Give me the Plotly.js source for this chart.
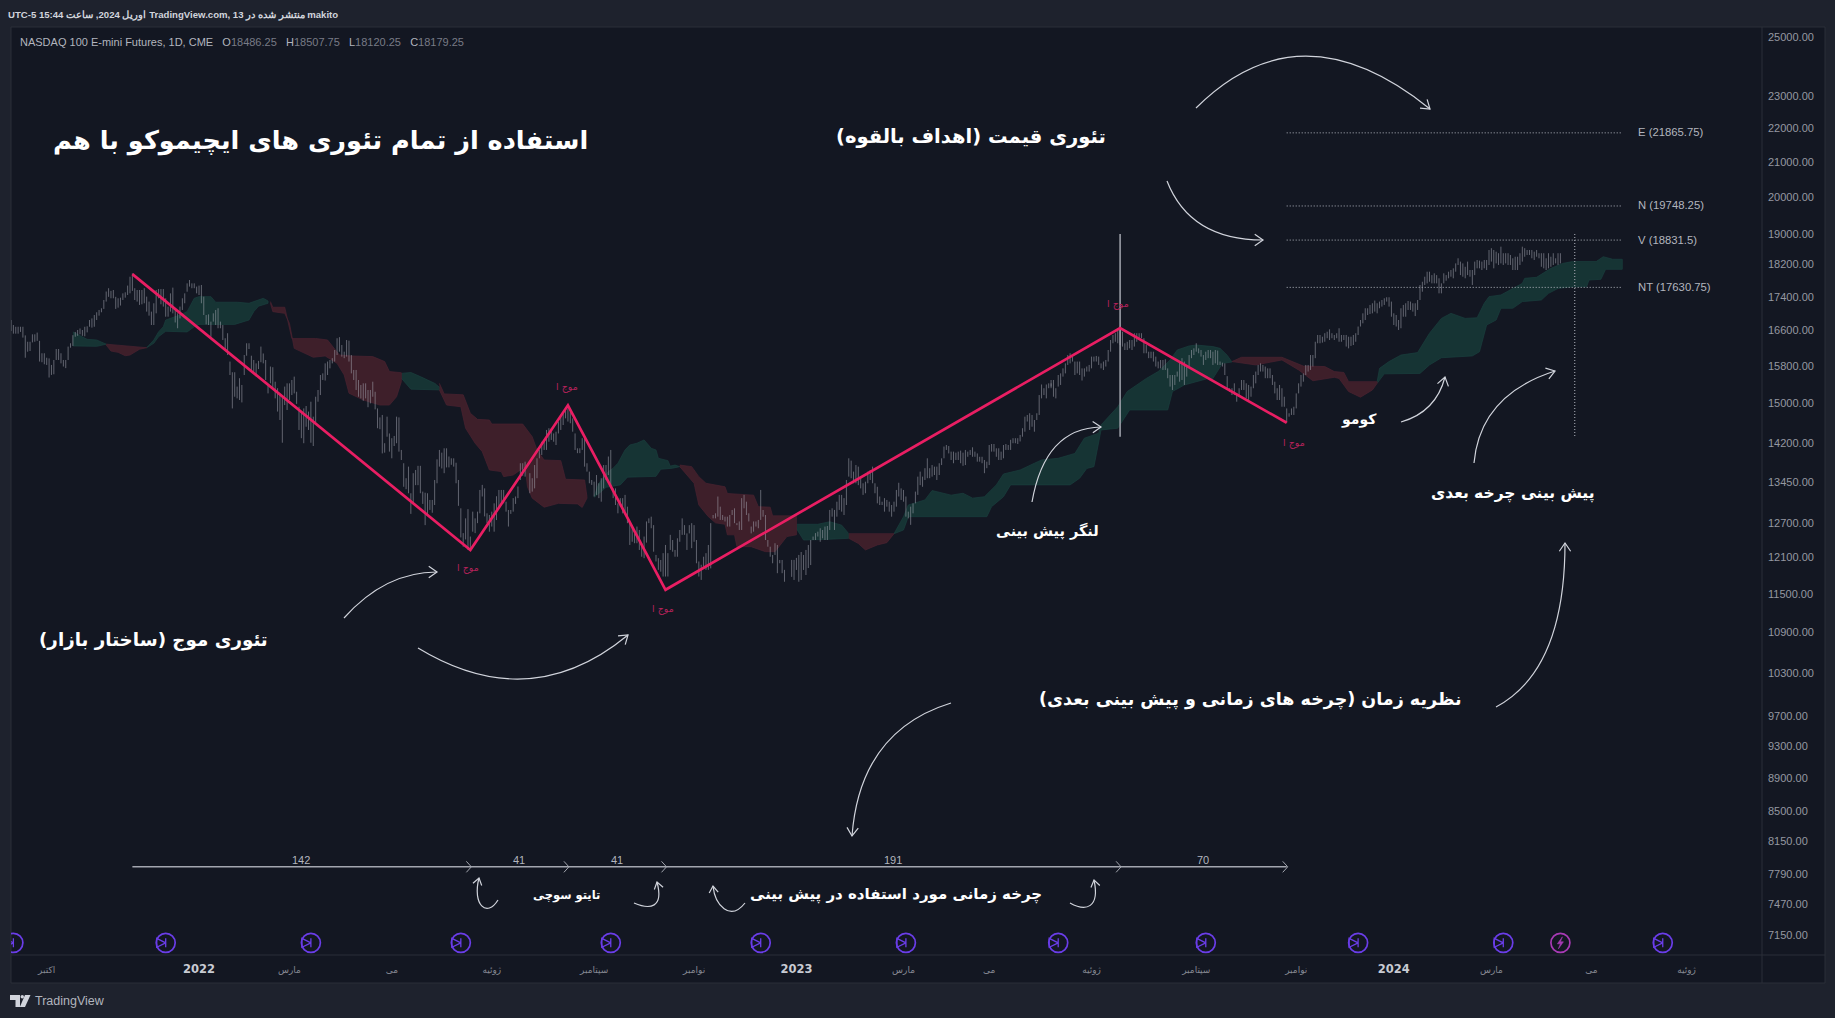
<!DOCTYPE html>
<html><head><meta charset="utf-8">
<script src="https://cdn.plot.ly/plotly-3.0.1.min.js"></script>
<style>html,body{margin:0;padding:0;background:#1e222d;overflow:hidden}#chart{width:1835px;height:1018px}</style>
</head><body><div id="chart"></div>
<script>
// ---------- price bars: [high, low] ----------
const barStarts=[0,109,218,328,337,437,546];
const barsA=[[16848,16590],[16730,16530],[16690,16530],[16690,16530],[16690,16570],[16690,16440],[16490,15985],[16345,16120],[16345,16135],[16515,16330],[16515,16345],[16555,16365],[16365,15900],[16085,15885],[16085,15840],[15985,15825],[15970,15550],[15825,15607],[15935,15620],[16180,15935],[16180,15935],[16085,15860],[15935,15790],[15935,15755],[16235,15935],[16310,16210],[16495,16250],[16570,16460],[16615,16480],[16650,16515],[16615,16480],[16690,16470],[16700,16560],[16848,16690],[16885,16670],[16965,16690],[17030,16848],[17085,16950],[17125,17030],[17324,17110],[17530,17285],[17610,17400],[17545,17365],[17567,17365],[17400,17110],[17365,17140],[17380,17190],[17485,17324],[17510,17380],[17675,17445],[17895,17485],[17980,17545],[17610,17324],[17567,17285],[17567,17205],[17567,17220],[17610,17245],[17405,17045],[17285,16950],[17045,16730],[17245,16730],[17567,17005],[17590,17365],[17590,17220],[17590,17165],[17365,16925],[17165,16925],[17485,17045],[17625,17005],[17125,16790],[17005,16655],[17165,16885],[17365,17085],[17485,17245],[17730,17525],[17813,17650],[17730,17610],[17730,17610],[17650,17485],[17675,17445],[17690,17245],[17405,16965],[16965,16745],[16980,16730],[16810,16460],[17005,16810],[17085,16730],[17125,16655],[16810,16655],[16730,16385],[16425,16158],[16540,16045],[15900,15605],[15665,14895],[15665,15140],[15355,15105],[15535,15071],[15390,15020],[16045,15605],[16310,16030],[16310,16180],[16030,15680],[15935,15665],[15860,15570],[15915,15735],[16235,15885],[16080,15860],[15935,15497],[15390,15210]];
const barsB=[[15790,15425],[15775,15320],[15460,15105],[15320,14830],[15175,14657],[15140,14200],[15355,14965],[15425,14863],[15425,15071],[15497,15175],[15570,15210],[15245,14990],[14930,14455],[14830,14290],[14895,14190],[14945,14520],[14830,14455],[15035,14200],[14725,14135],[15140,14600],[15283,15035],[15605,15175],[15640,15497],[15860,15485],[15900,15605],[15935,15750],[15975,15860],[16158,15900],[16425,16045],[16450,16120],[16270,16010],[16120,15975],[16385,16010],[16370,15900],[16045,15640],[15715,15497],[15715,15283],[15497,15140],[15390,15105],[15425,15055],[15425,15105],[15283,14920],[15283,15000],[15460,15140],[15245,14875],[14895,14490],[14710,14470],[14760,13990],[14190,14005],[14725,14320],[14385,14025],[14290,13895],[14335,14135],[14725,14190],[14710,14025],[14058,13863],[13800,13355],[13515,13310],[13735,13235],[13235,12860],[13610,13050],[13671,13385],[13750,13385],[13750,13235],[13265,13040],[13245,12660],[13235,12840],[13112,12931],[13112,12880],[13482,13020],[13875,13420],[14058,13735],[14005,13700],[14090,13610],[14090,13720],[13930,13720],[13895,13770],[13895,13735],[13810,13420],[13482,13005],[12960,12445],[12520,12285],[12780,12410],[12945,12230],[12460,12260],[12900,12545],[12780,12520],[12900,12695],[13296,12870],[13390,13175],[13325,12815],[12870,12695],[12840,12545],[12900,12635],[13050,12545],[13180,12750],[13296,12960],[13296,13050],[13296,13050],[13080,12900],[12930,12635],[12930,12860],[13145,12900],[13175,13040],[13360,13145],[13800,13482],[13800,13560],[13830,13545]];
const barsC=[[13610,13235],[13515,13265],[13765,13325],[13895,13515],[14058,13895],[14220,13960],[14255,14058],[14455,14058],[14490,14220],[14490,14255],[14385,14220],[14420,14155],[14625,14385],[14725,14455],[14795,14555],[14895,14690],[14895,14625],[14830,14590],[14690,14420],[14385,14058],[14090,13995],[14090,13995],[14290,14058],[14320,13735],[13800,13640],[13640,13420],[13482,13390],[13450,13175],[13575,13205],[13420,13145],[13515,13080],[13765,13325],[13765,13482],[13930,13575],[14058,13360],[13325,13145],[13325,13020],[13050,12870],[13145,12990],[13145,12870],[13205,12900],[12990,12695],[12695,12315],[12660,12370],[12515,12345],[12635,12345],[12575,12230],[12345,12115],[12460,12090],[12725,12355],[12780,12695],[12810,12605],[12660,12200],[12145,12035],[12090,11895],[12060,11865],[12175,11785],[12315,11785],[12175,11785],[12490,12230],[12400,12200],[12230,12115],[12430,12115],[12575,12370],[12780,12490],[12660,12490],[12515,12230],[12660,12515],[12695,12260],[12660,12370],[12400,12005],[12035,11785],[11980,11730],[12115,11950],[12175,11895],[12315,11895],[12695,11920],[12840,12780],[12870,12780],[13175,12810],[12990,12752],[12840,12752],[12810,12725],[12810,12635],[12840,12635],[12930,12840],[12960,12695],[12695,12660],[12725,12575],[13145,12575],[13205,12960],[13080,12840],[12870,12725],[12635,12515],[12725,12545],[12725,12635],[12752,12605],[13296,12752],[12930,12810],[12840,12400],[12400,12285],[12285,12115],[12145,12005],[12345,12145],[12315,11840],[12060,12005],[12060,11840],[11895,11700]];
const barsD=[[12061,11780],[12061,11729],[12095,11894],[12145,11700],[12195,11729],[12145,11894],[12230,11810],[12315,11925],[12400,11975]];
const barsE=[[12460,12400],[12520,12400],[12545,12460],[12605,12370],[12575,12430],[12635,12400],[12645,12400],[12931,12575],[12960,12810],[12931,12575],[13080,12810],[13205,12931],[13205,12900],[13145,12840],[13482,13020],[13895,13545],[13850,13515],[13640,13420],[13765,13420],[13735,13385],[13545,13325],[13420,13205],[13450,13235],[13640,13420],[13671,13482],[13735,13420],[13420,13235],[13355,13050],[13175,13020],[13080,13020],[13145,12900],[13112,12990],[13080,12900],[13020,12810],[13080,12900],[13296,12990],[13430,13175],[13325,13112],[13296,13080],[13175,12810],[12900,12780],[12990,12665],[13050,12870],[13265,13050],[13545,13205],[13640,13385],[13545,13355],[13705,13482],[13895,13515],[13705,13515],[13765,13545],[13735,13575],[13735,13482],[13800,13575],[13895,13765],[14125,13895],[14155,14058],[14135,13990],[14025,13863],[14025,13800],[14005,13863],[14025,13863],[14045,13800],[14005,13750],[14058,13765],[14025,13925],[14058,13960],[14110,13925],[14025,13925],[13990,13830],[13925,13830],[13925,13800],[13863,13610],[13830,13705],[14155,13765],[14175,14025],[14175,14025],[14090,13925],[14090,13863],[14025,13863],[14155,13895],[14175,14058],[14155,14058],[14258,14058],[14290,14190],[14290,14190],[14290,14175],[14355,14225],[14490,14320],[14725,14420],[14760,14625],[14795,14455],[14760,14520],[14657,14420],[14795,14657],[15175,14760],[15400,15105],[15320,15175],[15400,15105],[15425,15320],[15497,15355]];
const barsF=[[15425,15320],[15497,15140],[15320,15105],[15605,15355],[15640,15390],[15750,15570],[15860,15640],[16045,15825],[16085,15860],[16010,15900],[15900,15605],[15900,15640],[15900,15605],[15750,15485],[15750,15570],[15790,15680],[15825,15680],[16010,15750],[16010,15900],[16025,15900],[16010,15825],[15860,15750],[15900,15715],[15935,15790],[16158,15900],[16385,16120],[16500,16310],[16540,16345],[16655,16310],[16710,16270],[16575,16235],[16310,16158],[16345,16158],[16385,16195],[16385,16158],[16540,16235],[16540,16345],[16540,16385],[16540,16425],[16425,16085],[16270,16085],[16120,15975],[16120,15975],[16120,15900],[16010,15790],[15900,15750],[15935,15750],[15935,15715],[15950,15715],[15750,15535],[15605,15355],[15605,15283],[15605,15390],[15680,15570],[15900,15460],[15975,15497],[15900,15390],[15790,15570],[16045,15790],[16158,15975],[16195,16045],[16310,16120],[16195,16085],[16158,16010],[16045,15825],[16120,15935],[16158,15975],[16158,15975],[16120,15825],[16158,15860],[16145,15825],[15900,15825],[15875,15790],[15860,15605],[15580,15320],[15320,15245],[15320,15175],[15425,15175],[15210,15035],[15320,15140],[15497,15283],[15497,15283],[15425,15105],[15390,15071],[15355,15140],[15605,15320],[15680,15425],[15825,15605],[15860,15680],[15825,15680],[15790,15535],[15750,15535],[15750,15535],[15605,15390],[15460,15210],[15320,15071],[15390,15071],[15320,14930],[15140,14930],[14895,14600],[14795,14725],[14895,14760],[14930,14760],[15210,14895],[15425,15210],[15605,15355],[15640,15460],[15825,15605],[15825,15680]];
const barsG=[[16045,15715],[16045,15790],[16345,15975],[16500,16310],[16500,16310],[16460,16325],[16540,16345],[16575,16425],[16630,16385],[16540,16425],[16500,16385],[16540,16425],[16655,16345],[16500,16345],[16500,16385],[16500,16235],[16460,16195],[16460,16250],[16500,16270],[16540,16345],[16695,16500],[16848,16695],[17005,16770],[17125,16848],[17125,16965],[17205,16990],[17245,17005],[17310,17045],[17245,17005],[17285,17125],[17324,17165],[17365,17205],[17390,17285],[17390,17165],[17285,16925],[17005,16730],[16965,16695],[16848,16615],[17125,16655],[17205,16925],[17245,16925],[17300,17085],[17285,17085],[17245,17045],[17245,16940],[17324,17085],[17690,17324],[17770,17525],[17895,17690],[18020,17730],[18020,17770],[17935,17730],[17980,17730],[17935,17730],[17855,17485],[17730,17485],[17980,17730],[17935,17795],[18020,17855],[18063,17895],[18105,17855],[18230,18020],[18360,18190],[18275,17935],[18230,17895],[18145,17855],[18275,17935],[18063,17895],[18063,17690],[18275,17935],[18317,18105],[18300,18105],[18275,18063],[18317,18105],[18317,18063],[18574,18190],[18620,18275],[18574,18105],[18530,18230],[18490,18190],[18660,18230],[18490,18190],[18490,18230],[18490,18190],[18445,18190],[18360,18063],[18400,18063],[18400,18063],[18490,18190],[18660,18275],[18620,18400],[18574,18445],[18574,18445],[18574,18360],[18530,18317],[18574,18400],[18490,18360],[18490,18145],[18490,18105],[18360,18063],[18490,18105],[18400,18145],[18490,18190],[18360,18230],[18490,18190],[18490,18230]];

// ---------- ichimoku cloud outlines: [bar, price] ----------
const kumoGreen=[
 {top:[[26,16570],[32,16400],[36,16385],[40,16290]],bot:[[26,16250],[32,16250],[36,16240],[40,16290]]},
 {top:[[57,16210],[60,16385],[62,16570],[64,16690],[65,16848],[68,16905],[71,16965],[74,17045],[77,17365],[79,17405],[84,17405],[86,17270],[95,17270],[100,17245],[104,17324],[106,17365],[108,17300]],bot:[[57,16210],[60,16310],[62,16460],[65,16585],[74,16570],[77,16690],[79,16745],[94,16745],[100,16848],[102,17045],[104,17175],[108,17245]]},
 {top:[[164,15640],[168,15660],[172,15570],[178,15425],[181,15300]],bot:[[164,15535],[168,15300],[181,15283]]},
 {top:[[245,13175],[247,13420],[251,13640],[253,13705],[255,13800],[258,14058],[260,14155],[263,14190],[266,14255],[269,14090],[271,14058],[272,13895],[276,13850],[277,13745],[279,13765],[281,13735]],bot:[[245,13160],[248,13265],[250,13345],[256,13390],[259,13535],[271,13550],[273,13685],[278,13705],[281,13735]]},
 {top:[[330,12675],[339,12675],[344,12720],[349,12660],[352,12510]],bot:[[330,12600],[333,12400],[342,12410],[352,12430]]},
 {top:[[371,12510],[375,12810],[377,13020],[384,13112],[387,13285],[392,13235],[395,13200],[400,13235],[404,13145],[409,13170],[414,13390],[417,13595],[424,13671],[430,13800],[433,13863],[440,13895],[447,13990],[451,14290],[457,14390],[458,14555],[462,14760],[465,14930],[469,15250],[477,15530],[482,15680],[487,15935],[490,16158],[495,16250],[498,16270],[505,16235],[508,16195],[511,16040],[513,15890]],bot:[[371,12510],[375,12575],[377,12810],[410,12810],[412,12990],[417,13170],[420,13390],[445,13390],[449,13515],[452,13700],[455,13735],[458,14455],[465,14490],[470,14863],[486,14863],[488,15250],[493,15390],[503,15530],[505,15530],[509,15860],[513,15890]]},
 {top:[[574,15460],[575,15750],[579,15900],[584,16045],[591,16100],[596,16540],[601,16885],[605,17005],[611,16885],[616,16900],[619,17245],[621,17405],[626,17445],[635,17730],[636,17855],[641,17880],[647,18105],[652,18230],[656,18275],[666,18275],[669,18400],[673,18335],[677,18335]],bot:[[574,15425],[577,15630],[592,15640],[596,15825],[601,15985],[614,16025],[617,16120],[620,16730],[624,16848],[626,17125],[631,17125],[635,17285],[643,17324],[646,17485],[650,17605],[656,17645],[662,17645],[663,17813],[668,17830],[670,18080],[677,18080]]}
];
const kumoRed=[
 {top:[[40,16290],[57,16220]],bot:[[40,16270],[42,16135],[45,16105],[48,16030],[50,16045],[52,16105],[54,16175],[57,16210]]},
 {top:[[109,17285],[110,17150],[115,17150],[118,16420],[128,16420],[133,16385],[138,16045],[143,16025],[152,16010],[157,15900],[159,15680],[164,15655]],bot:[[109,17245],[110,17045],[115,17005],[117,16770],[119,16195],[127,15995],[132,16025],[137,15860],[140,15605],[142,15215],[148,15071],[155,14965],[159,14965],[162,15140],[164,15460]]},
 {top:[[180,15425],[182,15200],[190,15180],[193,14795],[196,14670],[201,14657],[202,14575],[215,14575],[219,14320],[221,14058],[224,13863],[231,13850],[233,13495],[241,13482],[242,13170]],bot:[[180,15283],[183,14965],[189,14930],[191,14490],[195,14190],[198,14025],[201,13671],[206,13640],[207,13545],[211,13575],[216,13735],[217,13355],[219,13145],[224,12980],[230,13050],[238,13040],[240,12975],[242,13145]]},
 {top:[[281,13765],[286,13735],[289,13545],[292,13420],[300,13355],[301,13230],[312,13200],[314,12990],[319,12980],[320,12825],[330,12825]],bot:[[281,13735],[287,13420],[289,13020],[293,12810],[296,12700],[300,12675],[301,12490],[304,12490],[305,12285],[311,12285],[317,12200],[321,12200],[326,12460],[330,12490]]},
 {top:[[352,12510],[371,12510]],bot:[[352,12430],[356,12340],[359,12230],[364,12315],[368,12355],[371,12510]]},
 {top:[[513,15900],[517,15995],[534,15995],[543,15800],[552,15790],[556,15680],[560,15660],[562,15460],[574,15460]],bot:[[513,15900],[523,15825],[534,15935],[541,15715],[547,15480],[556,15555],[558,15530],[562,15250],[567,15130],[572,15283],[574,15425]]}
];

// ---------- wave (zigzag), levels, cycles ----------
const waveBars=[51,193,234,275,466,536];
const wavePrices=[17960,12230,14960,11570,16660,14600];
const waveLabelPx=[[468,568],[567,387],[663,609],[1118,304],[1294,443]];
const levelNames=['E (21865.75)','N (19748.25)','V (18831.5)','NT (17630.75)'];
const levelValues=[21865.75,19748.25,18831.5,17630.75];
const levelBars=[536,677];
const cycleBars=[51,193,234,275,466,536];
const cycleCounts=['142','41','41','191','70'];
const cyclePrice=7865;
const anchorBar=466, forecastBar=657, vlineHi=18990, vlineLo=14320;
const eventBars=[1,65,126,189,252,315,376,440,502,566,627,694];
const dividendBars=[651];
const eventPrice=7075;

// ---------- axes ----------
const priceTicks=[25000,23000,22000,21000,20000,19000,18200,17400,16600,15800,15000,14200,13450,12700,12100,11500,10900,10300,9700,9300,8900,8500,8150,7790,7470,7150];
const timeTickBars=[15,79,117,160,202,245,287,330,375,411,454,498,540,581,622,664,704];
const timeTickText=['اکتبر','2022','مارس','می','ژوئیه','سپتامبر','نوامبر','2023','مارس','می','ژوئیه','سپتامبر','نوامبر','2024','مارس','می','ژوئیه'];

// ---------- layout geometry ----------
const W=1835,H=1018,L=11,R=1762,T=27,B=955,FR=1825,FB=983;
const YMAX=25340,YMIN=6956;
const PX=(x)=>(x-L)/(R-L), PY=(y)=>1-(y-T)/(B-T);
const xpx=(i)=>L+(R-L)*i/735.7;
const ypx=(v)=>T+(B-T)*(Math.log10(YMAX)-Math.log10(v))/(Math.log10(YMAX)-Math.log10(YMIN));
const RTL=(s)=>'\u202B'+s+'\u202C';
const FA='"DejaVu Sans", "Noto Sans", sans-serif', LA='"Liberation Sans", Arial, sans-serif';

// ---------- traces ----------
const traces=[];
function cloud(seg,fill,edge){
  const pts=seg.top.concat(seg.bot.slice().reverse());
  traces.push({type:'scatter',mode:'lines',x:pts.map(p=>p[0]),y:pts.map(p=>p[1]),fill:'toself',fillcolor:fill,line:{color:edge,width:0.7},hoverinfo:'skip',showlegend:false});
}
kumoGreen.forEach(s=>cloud(s,'#163434','#1a3f3d'));
kumoRed.forEach(s=>cloud(s,'#3e1f2a','#4a2330'));

const bx=[],by=[];
[barsA,barsB,barsC,barsD,barsE,barsF,barsG].forEach((seg,k)=>seg.forEach((b,j)=>{
  const i=barStarts[k]+j; bx.push(i,i,null); by.push(b[0],b[1],null);
}));
traces.push({type:'scatter',mode:'lines',x:bx,y:by,line:{color:'rgba(165,168,178,0.6)',width:0.9},hoverinfo:'skip',showlegend:false,name:'NQ'});

levelValues.forEach(v=>traces.push({type:'scatter',mode:'lines',x:levelBars,y:[v,v],line:{color:'#b2b5be',width:1,dash:'1px 2px'},hoverinfo:'skip',showlegend:false}));
traces.push({type:'scatter',mode:'lines',x:[anchorBar,anchorBar],y:[vlineHi,vlineLo],line:{color:'#a3a6af',width:1.5},hoverinfo:'skip',showlegend:false});
traces.push({type:'scatter',mode:'lines',x:[forecastBar,forecastBar],y:[vlineHi,vlineLo],line:{color:'#8f929b',width:1.3,dash:'1px 2px'},hoverinfo:'skip',showlegend:false});
traces.push({type:'scatter',mode:'lines',x:waveBars,y:wavePrices,line:{color:'#e91e63',width:2.7},hoverinfo:'skip',showlegend:false});
traces.push({type:'scatter',mode:'lines',x:[cycleBars[0],cycleBars[cycleBars.length-1]],y:[cyclePrice,cyclePrice],line:{color:'#a3a6af',width:1.5},hoverinfo:'skip',showlegend:false});
traces.push({type:'scatter',mode:'markers',x:eventBars,y:eventBars.map(()=>eventPrice),marker:{symbol:'circle-open',size:19,color:'#6a3de8',line:{width:1.7,color:'#6a3de8'}},hoverinfo:'skip',showlegend:false});
traces.push({type:'scatter',mode:'markers',x:eventBars,y:eventBars.map(()=>eventPrice),marker:{symbol:'arrow-bar-right-open',size:9,color:'#6a3de8',line:{width:1.3,color:'#6a3de8'}},hoverinfo:'skip',showlegend:false});
traces.push({type:'scatter',mode:'markers',x:dividendBars,y:dividendBars.map(()=>eventPrice),marker:{symbol:'circle-open',size:19,color:'#a83ab5',line:{width:1.7,color:'#a83ab5'}},hoverinfo:'skip',showlegend:false});

// ---------- annotations ----------
const ann=[];
function note(x,y,text,size,color,o){ann.push(Object.assign({xref:'paper',yref:'paper',x:PX(x),y:PY(y),text:text,showarrow:false,xanchor:'center',yanchor:'middle',font:{family:FA,size:size,color:color}},o||{}));}
const A=(s)=>RTL(s);
note(6,15,A('makito منتشر شده در TradingView.com, 13 اوریل 2024, ساعت 15:44 UTC-5'),9.5,'#d1d4dc',{xanchor:'left',font:{family:LA,size:9.6,color:'#d1d4dc',weight:700}});
const val=(s)=>'<span style="fill:#787b86">'+s+'</span>';
note(18,41.5,'NASDAQ 100 E-mini Futures, 1D, CME   O'+val('18486.25')+'   H'+val('18507.75')+'   L'+val('18120.25')+'   C'+val('18179.25'),11,'#b2b5be',{xanchor:'left',font:{family:LA,size:11,color:'#b2b5be'}});
const bw=(x,y,t,s)=>note(x,y,A(t),s,'#ffffff',{font:{family:FA,size:s,color:'#ffffff',weight:700}});
bw(320,140,'استفاده از تمام تئوری های ایچیموکو با هم',25.6);
bw(971,136,'تئوری قیمت (اهداف بالقوه)',19.5);
bw(153,640,'تئوری موج (ساختار بازار)',18.3);
bw(1047,531,'لنگر پیش بینی',14.5);
bw(1359,420,'کومو',14);
bw(1513,494,'پیش بینی چرخه بعدی',15.5);
bw(1250,699,'نظریه زمان (چرخه های زمانی و پیش بینی بعدی)',17.5);
bw(896,894,'چرخه زمانی مورد استفاده در پیش بینی',15);
bw(566,895,'تایتو سوچی',11.5);
waveLabelPx.forEach(p=>note(p[0],p[1],A('موج ا'),9.5,'#b3225a'));
levelNames.forEach((t,k)=>note(1636,ypx(levelValues[k])-0.5,t,11,'#b2b5be',{xanchor:'left',font:{family:LA,size:11.3,color:'#b2b5be'}}));
cycleCounts.forEach((t,k)=>note(xpx((cycleBars[k]+cycleBars[k+1])/2),860,t,11,'#b2b5be',{font:{family:LA,size:11,color:'#b2b5be'}}));
note(33,1001,'TradingView',12,'#b2b5be',{xanchor:'left',font:{family:LA,size:12.5,color:'#b2b5be'}});

// ---------- panes, borders, drawn arrows ----------
const shapes=[];
const BORDER='#2a2e39';
const rect=(x0,y0,x1,y1,fill,line,layer)=>shapes.push({type:'rect',xref:'paper',yref:'paper',x0:PX(x0),y0:PY(y0),x1:PX(x1),y1:PY(y1),fillcolor:fill,line:{color:line,width:line==='rgba(0,0,0,0)'?0:1},layer:layer||'below'});
rect(L,T,FR,FB,'#131722',BORDER);
const hline=(x0,y0,x1,y1)=>shapes.push({type:'line',xref:'paper',yref:'paper',x0:PX(x0),y0:PY(y0),x1:PX(x1),y1:PY(y1),line:{color:BORDER,width:1},layer:'above'});
hline(R,T,R,FB); hline(L,B,FR,B);
const pth=(d,color,width,fill)=>shapes.push({type:'path',xref:'paper',yref:'paper',path:d,line:{color:color,width:width},fillcolor:fill||'rgba(0,0,0,0)',layer:'above'});
const pt=(x,y)=>PX(x)+','+PY(y);
function head(tx,ty,fx,fy,size,color,width){
  const a=Math.atan2(ty-fy,tx-fx),s=size||9;
  const p1=[tx-s*Math.cos(a-0.6),ty-s*Math.sin(a-0.6)],p2=[tx-s*Math.cos(a+0.6),ty-s*Math.sin(a+0.6)];
  pth('M'+pt(p1[0],p1[1])+' L'+pt(tx,ty)+' L'+pt(p2[0],p2[1]),color,width);
}
function curve(x0,y0,cx,cy,x1,y1){
  pth('M'+pt(x0,y0)+' Q'+pt(cx,cy)+' '+pt(x1,y1),'#d1d4dc',1.2);
  head(x1,y1,cx,cy,10,'#d1d4dc',1.2);
}
curve(1196,108,1300,4,1430,109);
curve(1167,181,1190,240,1263,240);
curve(344,618,385,572,437,572);
curve(418,648,530,716,628,635);
curve(1032,502,1045,428,1101,427);
curve(1401,422,1436,412,1445,377);
curve(1474,463,1480,395,1555,371);
curve(1496,707,1565,670,1565,543);
curve(951,703,860,731,852,836);
function hook(x0,y0,c1x,c1y,c2x,c2y,x1,y1){
  pth('M'+pt(x0,y0)+' C'+pt(c1x,c1y)+' '+pt(c2x,c2y)+' '+pt(x1,y1),'#d1d4dc',1.2);
  head(x1,y1,c2x,c2y,8,'#d1d4dc',1.2);
}
hook(498,900,487,918,472,905,479,878);
hook(634,903,650,910,664,908,657,882);
hook(745,903,730,922,715,905,713,886);
hook(1070,903,1086,912,1100,908,1094,880);
cycleBars.slice(1).forEach(i=>{const x=xpx(i),y=ypx(cyclePrice);
  pth('M'+pt(x-4,y-5.5)+' L'+pt(x+1,y)+' L'+pt(x-4,y+5.5),'#a3a6af',1);});
// lightning bolt inside the dividend circle
dividendBars.forEach(i=>{const x=xpx(i),y=ypx(eventPrice);
  pth('M'+pt(x+2,y-6)+' L'+pt(x-3,y+1)+' L'+pt(x,y+1)+' L'+pt(x-2,y+6)+' L'+pt(x+3,y-1)+' L'+pt(x,y-1)+' Z','#a83ab5',0.6,'#a83ab5');});
// TradingView mark
pth('M'+pt(10,995)+' H'+PX(20)+' V'+PY(1007)+' H'+PX(15.5)+' V'+PY(1000)+' H'+PX(10)+' Z','#d1d4dc',0,'#d1d4dc');
pth('M'+pt(25,995)+' H'+PX(30.5)+' L'+pt(25,1007)+' H'+PX(19.8)+' Z','#d1d4dc',0,'#d1d4dc');
shapes.push({type:'circle',xref:'paper',yref:'paper',x0:PX(20.5),x1:PX(24),y0:PY(995),y1:PY(998.5),fillcolor:'#d1d4dc',line:{width:0},layer:'above'});

const timeText=timeTickText.map(t=>/^\d/.test(t)?'<span style="font-size:11.5px;font-weight:bold;fill:#c8cbd3">'+t+'</span>':t);
const layout={
  width:W,height:H,autosize:false,showlegend:false,hovermode:false,
  paper_bgcolor:'#1e222d',plot_bgcolor:'#131722',
  margin:{l:L,r:W-R,t:T,b:H-B,pad:0},
  xaxis:{range:[0,735.7],showgrid:false,zeroline:false,showline:false,ticks:'',tickmode:'array',tickvals:timeTickBars,ticktext:timeText,tickangle:0,ticklabelstandoff:8,
    tickfont:{family:FA,size:9,color:'#868993'},fixedrange:true},
  yaxis:{type:'log',range:[Math.log10(YMIN),Math.log10(YMAX)],side:'right',showgrid:false,zeroline:false,showline:false,ticks:'',tickmode:'array',
    tickvals:priceTicks,ticktext:priceTicks.map(v=>v.toFixed(2)),tickfont:{family:LA,size:11,color:'#9598a1'},ticklabelstandoff:5,fixedrange:true},
  shapes:shapes,annotations:ann
};
Plotly.newPlot('chart',traces,layout,{displayModeBar:false,staticPlot:true});
</script></body></html>
